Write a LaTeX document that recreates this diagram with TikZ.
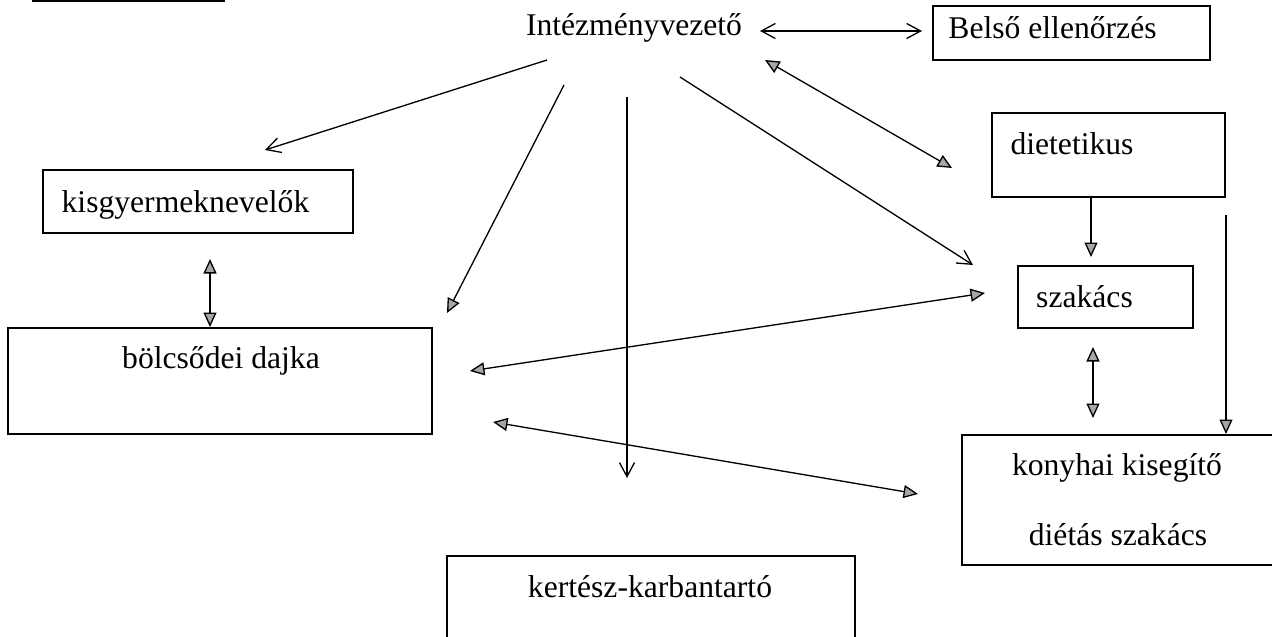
\documentclass[tikz,border=0pt]{standalone}
\usepackage{fontspec}
\setmainfont{Liberation Serif}
\usetikzlibrary{arrows.meta}

\begin{document}
\begin{tikzpicture}[x=0.02cm, y=-0.02cm,
  box/.style={rectangle, draw, line width=0.9pt, inner sep=0pt},
  txt/.style={font=\fontsize{18}{22}\selectfont, inner sep=0pt, anchor=base},
  barb/.style={line width=0.75pt, -{Straight Barb[length=2.8mm, width=3mm]}},
  barbs/.style={line width=0.75pt, {Straight Barb[length=2.8mm, width=3mm]}-{Straight Barb[length=2.8mm, width=3mm]}},
  tri/.style={line width=0.75pt, -{Triangle[length=2.9mm, width=2.6mm, fill=gray!70]}},
  tris/.style={line width=0.75pt, {Triangle[length=2.9mm, width=2.6mm, fill=gray!70]}-{Triangle[length=2.9mm, width=2.6mm, fill=gray!70]}}
]
\useasboundingbox (0,0) rectangle (1272,636);
\clip (0,0) rectangle (1272,636);

% heading rule, top left
\coordinate (rulel) at (32,1);
\coordinate (ruler) at (225,1);
\draw[line width=1.1pt] (rulel) -- (ruler);

% boxes
\node[txt] (vez) at (634,35) {Intézményvezető};
\node[box, minimum width=5.54cm, minimum height=1.08cm] (bels) at (1071.5,33) {};
\node[txt] (belsT) at (1052.5,38) {Belső ellenőrzés};
\node[box, minimum width=6.2cm, minimum height=1.26cm] (kisgy) at (198,201.5) {};
\node[txt] (kisgyT) at (185.5,212) {kisgyermeknevelők};
\node[box, minimum width=4.66cm, minimum height=1.68cm] (diet) at (1108.5,155) {};
\node[txt] (dietT) at (1072,154) {dietetikus};
\node[box, minimum width=3.5cm, minimum height=1.24cm] (szak) at (1105.5,297) {};
\node[txt] (szakT) at (1084.5,307) {szakács};
\node[box, minimum width=8.48cm, minimum height=2.12cm] (dajka) at (220,381) {};
\node[txt] (dajkaT) at (221,368) {bölcsődei dajka};
\node[box, minimum width=6.56cm, minimum height=2.6cm] (konyha) at (1126,500) {};
\node[txt] (konyhaT) at (1117,475) {konyhai kisegítő};
\node[txt] (dietasT) at (1118,545) {diétás szakács};
\node[box, minimum width=8.16cm, minimum height=2.08cm] (kert) at (651,608) {};
\node[txt] (kertT) at (650,597) {kertész-karbantartó};

% arrow ends
\coordinate (vezE) at (760,31);   \coordinate (belsW) at (922,31);
\coordinate (vezK) at (547,60);   \coordinate (kisgyN) at (265,150);
\coordinate (vezD) at (564,85);   \coordinate (dajkaNE) at (447,313);
\coordinate (vezS) at (627,97);   \coordinate (kertN) at (627,478);
\coordinate (vezSz) at (680,77);  \coordinate (szakNW) at (973,265);
\coordinate (vezDi) at (765,60);  \coordinate (dietW) at (952,168);
\coordinate (dietS) at (1091,197); \coordinate (szakN) at (1091,257);
\coordinate (szakS) at (1093,347); \coordinate (konyhaN) at (1093,418);
\coordinate (dietR) at (1226,215); \coordinate (konyhaNE) at (1226,434);
\coordinate (szakW) at (985,293);  \coordinate (dajkaE) at (470,371);
\coordinate (dajkaSE) at (493,422); \coordinate (konyhaW) at (918,494);
\coordinate (kisgyS) at (210,259); \coordinate (dajkaN) at (210,327);

% connectors
\draw[barbs] (vezE) -- (belsW);
\draw[barb] (vezK) -- (kisgyN);
\draw[tri] (vezD) -- (dajkaNE);
\draw[barb] (vezS) -- (kertN);
\draw[barb] (vezSz) -- (szakNW);
\draw[tris] (vezDi) -- (dietW);
\draw[tri] (dietS) -- (szakN);
\draw[tris] (szakS) -- (konyhaN);
\draw[tri] (dietR) -- (konyhaNE);
\draw[tris] (szakW) -- (dajkaE);
\draw[tris] (dajkaSE) -- (konyhaW);
\draw[tris] (kisgyS) -- (dajkaN);

\end{tikzpicture}
\end{document}
